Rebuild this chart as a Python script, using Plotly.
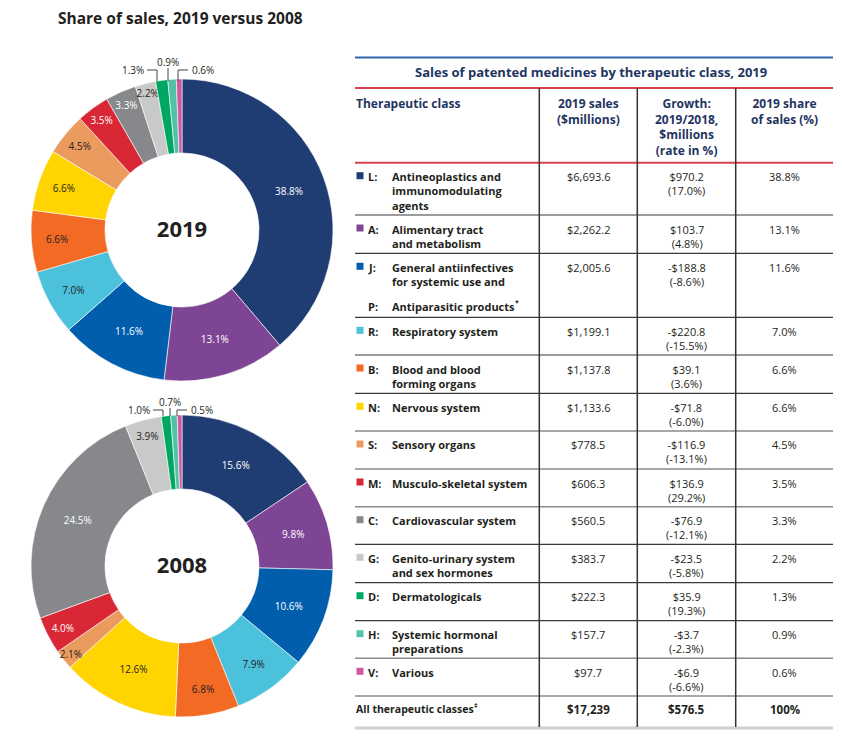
import plotly.graph_objects as go

# ---------------- data ----------------
codes = ["L", "A", "J", "R", "B", "N", "S", "M", "C", "G", "D", "H", "V"]
class_names = [
    "Antineoplastics and<br>immunomodulating<br>agents",
    "Alimentary tract<br>and metabolism",
    "General antiinfectives<br>for systemic use and",
    "Respiratory system",
    "Blood and blood<br>forming organs",
    "Nervous system",
    "Sensory organs",
    "Musculo-skeletal system",
    "Cardiovascular system",
    "Genito-urinary system<br>and sex hormones",
    "Dermatologicals",
    "Systemic hormonal<br>preparations",
    "Various",
]
sales_2019 = [6693.6, 2262.2, 2005.6, 1199.1, 1137.8, 1133.6, 778.5, 606.3, 560.5, 383.7, 222.3, 157.7, 97.7]
growth_abs = [970.2, 103.7, -188.8, -220.8, 39.1, -71.8, -116.9, 136.9, -76.9, -23.5, 35.9, -3.7, -6.9]
growth_pct = [17.0, 4.8, -8.6, -15.5, 3.6, -6.0, -13.1, 29.2, -12.1, -5.8, 19.3, -2.3, -6.6]
share_2019 = [38.8, 13.1, 11.6, 7.0, 6.6, 6.6, 4.5, 3.5, 3.3, 2.2, 1.3, 0.9, 0.6]
share_2008 = [15.6, 9.8, 10.6, 7.9, 6.8, 12.6, 2.1, 4.0, 24.5, 3.9, 1.0, 0.7, 0.5]
header_cols = [
    ["Therapeutic class"],
    ["2019 sales", "($millions)"],
    ["Growth:", "2019/2018,", "$millions", "(rate in %)"],
    ["2019 share", "of sales (%)"],
]
total_label = "All therapeutic classes"
total_sales = "$17,239"
total_growth = "$576.5"
total_share = "100%"

colors = ["#1f3d73", "#7f4595", "#005eac", "#4bc1dc", "#f26a24", "#ffd400", "#ec9b5f",
          "#da2736", "#86888c", "#c8c9c9", "#00a762", "#50c2a8", "#d0589f"]
text_colors = ["white", "white", "white", "#231f20", "#231f20", "#231f20", "#231f20",
               "white", "white", "#231f20", "#231f20", "#231f20", "#231f20"]

# page body has an 8px margin: work in reference pixel coords, shift by 8
OFF = 8
W, H = 842 - OFF, 739 - OFF
def X(px):
    return (px - OFF) / W
def Y(py):
    return 1 - (py - OFF) / H

FONT = "Open Sans"
DARK = "#231f20"
NAVY = "#1f3561"

fig = go.Figure()

def add_donut(values, center_y, year):
    r = 151
    cx = 182
    positions = ["inside" if v >= 2 else "none" for v in values]
    fig.add_trace(go.Pie(
        values=values,
        labels=codes,
        sort=False,
        direction="clockwise",
        rotation=0,
        hole=0.51,
        marker=dict(colors=colors, line=dict(color="white", width=0.6)),
        text=[f"{v:.1f}%" for v in values],
        textinfo="text",
        textposition=positions,
        insidetextorientation="horizontal",
        textfont=dict(family=FONT, size=10, color=text_colors),
        domain=dict(x=[X(cx - r), X(cx + r)], y=[Y(center_y + r), Y(center_y - r)]),
        title=dict(text=f"<b>{year}</b>", position="middle center",
                   font=dict(family=FONT, size=22, color=DARK)),
        showlegend=False,
        hoverinfo="label+value",
    ))

add_donut(share_2019, 230, "2019")
add_donut(share_2008, 566, "2008")

annotations = []
shapes = []

def txt(x, y, s, size=11, color=DARK, xanchor="left", bold=False, yanchor="middle"):
    annotations.append(dict(
        x=X(x), y=Y(y), xref="paper", yref="paper", text=(f"<b>{s}</b>" if bold else s),
        showarrow=False, xanchor=xanchor, yanchor=yanchor, align=xanchor if xanchor != "center" else "center",
        font=dict(family=FONT, size=size, color=color), borderpad=0,
    ))

def line(x0, y0, x1, y1, color, width):
    shapes.append(dict(type="line", xref="paper", yref="paper",
                       x0=X(x0), y0=Y(y0), x1=X(x1), y1=Y(y1),
                       line=dict(color=color, width=width)))

# Chart title
txt(57, 18, "Share of sales, 2019 versus 2008", size=15.5, bold=True)

# small slice labels with leader lines
def small_labels(values, ytext, yslice, xs):
    lbl = [f"{v:.1f}%" for v in values[-3:]]
    txt(xs[0] - 12, ytext, lbl[0], size=10, xanchor="right")
    line(xs[0] - 10, ytext, xs[0], ytext, "#444", 1)
    line(xs[0], ytext, xs[0], yslice, "#444", 1)
    txt(xs[1], ytext - 8, lbl[1], size=10, xanchor="center")
    line(xs[1], ytext - 2, xs[1], yslice, "#444", 1)
    txt(xs[2] + 13, ytext, lbl[2], size=10, xanchor="left")
    line(xs[2], ytext, xs[2] + 10, ytext, "#444", 1)
    line(xs[2], ytext, xs[2], yslice, "#444", 1)

small_labels(share_2019, 70, 81, [157, 168, 178])
small_labels(share_2008, 410, 416, [163, 170, 177])

# ---------------- table ----------------
TL, TR = 355, 833
col_x = [539.3, 637.3, 735.7]
c_sales, c_growth, c_share = 588, 686.5, 784.5

line(TL, 57.5, TR, 57.5, "#2e67ad", 2)
txt(591, 72, "Sales of patented medicines by therapeutic class, 2019", size=13, color=NAVY, xanchor="center", bold=True)
line(TL, 88, TR, 88, "#d8404c", 2)

hdr_x = [(355, "left"), (c_sales, "center"), (c_growth, "center"), (c_share, "center")]
for (hx, anc), lines_ in zip(hdr_x, header_cols):
    txt(hx, 101.7 - 8, "<br>".join(lines_), size=12, color=NAVY, bold=True, xanchor=anc, yanchor="top")
line(TL, 162.7, TR, 162.7, "#d8404c", 2)

row_tops = [162.7, 215, 253.3, 317.3, 355, 393.3, 431, 469, 506.7, 544.3, 582.7, 620.7, 658.3, 696]

def money(v):
    return f"{'-' if v < 0 else ''}${abs(v):,.1f}"

for i, code in enumerate(codes):
    top = row_tops[i]
    yc = top + 13
    ytop = yc - 7.5
    shapes.append(dict(type="rect", xref="paper", yref="paper",
                       x0=X(356.5), x1=X(363.5), y0=Y(yc + 3.5), y1=Y(yc - 3.5),
                       fillcolor=colors[i], line=dict(width=0)))
    txt(366.5, ytop, f"{code}:", size=11, bold=True, yanchor="top")
    txt(390.5, ytop, class_names[i], size=11, bold=True, yanchor="top")
    txt(c_sales, ytop, money(sales_2019[i]), size=11, xanchor="center", yanchor="top")
    txt(c_growth, ytop, f"{money(growth_abs[i])}<br>({growth_pct[i]:.1f}%)", size=11, xanchor="center", yanchor="top")
    txt(c_share, ytop, f"{share_2019[i]:.1f}%", size=11, xanchor="center", yanchor="top")
    if i == 2:
        txt(366.5, 306.7, "P:", size=11, bold=True)
        txt(390.5, 306.7, "Antiparasitic products", size=11, bold=True)
        txt(513.5, 302, "*", size=7, bold=True)
    if i > 0:
        gray = i in (6, 7, 8, 12)
        line(TL, top, TR, top, "#8a8a8a" if gray else "#3a3a3a", 1.6 if gray else 1.2)

line(TL, 696, TR, 696, "#8a8a8a", 1.6)
txt(355, 709.3, total_label, size=10.5, bold=True)
txt(473, 705, "‡", size=7, bold=True)
txt(c_sales, 709.3, total_sales, size=11.5, bold=True, xanchor="center")
txt(c_growth, 709.3, total_growth, size=11.5, bold=True, xanchor="center")
txt(c_share, 709.3, total_share, size=11.5, bold=True, xanchor="center")
line(TL, 728, TR, 728, "#cfcfcf", 3)

for cx in col_x:
    line(cx, 88, cx, 727, "#333333", 1.5)

fig.update_layout(
    width=W, height=H,
    margin=dict(l=0, r=0, t=0, b=0),
    paper_bgcolor="white", plot_bgcolor="white",
    annotations=annotations, shapes=shapes,
    uniformtext=dict(minsize=10, mode="show"),
    font=dict(family=FONT),
)

fig.write_html("out.html")
